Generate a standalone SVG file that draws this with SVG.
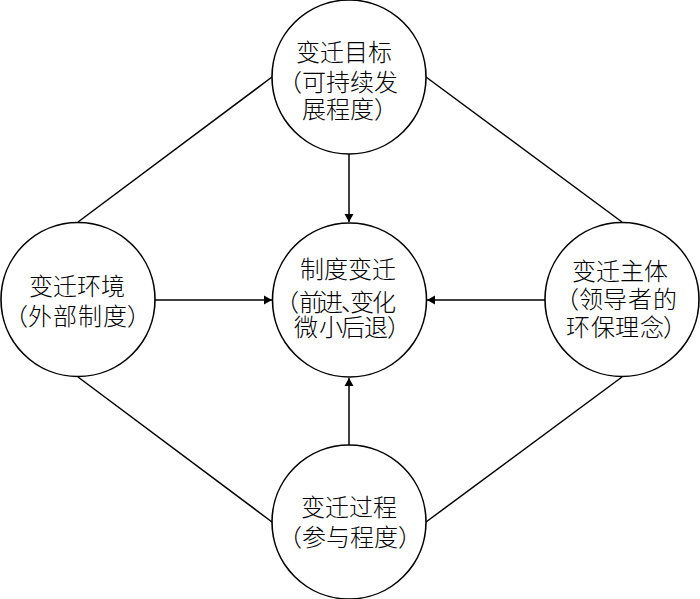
<svg xmlns="http://www.w3.org/2000/svg" width="700" height="599" viewBox="0 0 700 599">
<style>
.node circle{fill:#fff;stroke:#000;stroke-width:1.6}
.node text{font-family:"Liberation Sans","Noto Sans CJK SC","Noto Sans CJK JP",sans-serif;font-size:24px;font-weight:300;fill:#000}
.edge{stroke:#000;stroke-width:1.5;fill:none}
</style>
<defs>
<marker id="arr" markerUnits="userSpaceOnUse" markerWidth="9" markerHeight="10" refX="8" refY="5" orient="auto">
<path d="M0,0.5 L8,5 L0,9.5 z" fill="#000"/>
</marker>
</defs>
<rect width="700" height="599" fill="#fff"/>
<g id="connectors">
<line class="edge" x1="78" y1="222" x2="272" y2="77"/>
<line class="edge" x1="426" y1="77" x2="622" y2="222"/>
<line class="edge" x1="78" y1="377" x2="272" y2="522"/>
<line class="edge" x1="426" y1="522" x2="622" y2="377"/>
<line class="edge" x1="349" y1="154" x2="349" y2="222" marker-end="url(#arr)"/>
<line class="edge" x1="155" y1="300" x2="272" y2="300" marker-end="url(#arr)"/>
<line class="edge" x1="545" y1="300" x2="427" y2="300" marker-end="url(#arr)"/>
<line class="edge" x1="349" y1="445" x2="349" y2="378" marker-end="url(#arr)"/>
</g>
<g id="goal" class="node">
<circle cx="349" cy="77" r="77"/>
<text><tspan x="296" y="61">变迁目标</tspan><tspan x="278" y="91">（可持续发</tspan><tspan x="302" y="118">展程度）</tspan></text>
</g>
<g id="change" class="node">
<circle cx="349.5" cy="300" r="77"/>
<text><tspan x="300" y="278">制度变迁</tspan><tspan x="275 299 319 341 350 372" y="311">（前进、变化</tspan><tspan x="294 319 341 364 387" y="336">微小后退）</tspan></text>
</g>
<g id="environment" class="node">
<circle cx="78" cy="299.5" r="77"/>
<text><tspan x="29" y="295">变迁环境</tspan><tspan x="4 28 53 78 103 127" y="325">（外部制度）</tspan></text>
</g>
<g id="subject" class="node">
<circle cx="622" cy="299.5" r="77"/>
<text><tspan x="572" y="280">变迁主体</tspan><tspan x="555 579 603 628 653" y="308">（领导者的</tspan><tspan x="566 591 615 640 663" y="336">环保理念）</tspan></text>
</g>
<g id="process" class="node">
<circle cx="349" cy="522" r="77"/>
<text><tspan x="301" y="516">变迁过程</tspan><tspan x="278" y="546">（参与程度）</tspan></text>
</g>
</svg>
